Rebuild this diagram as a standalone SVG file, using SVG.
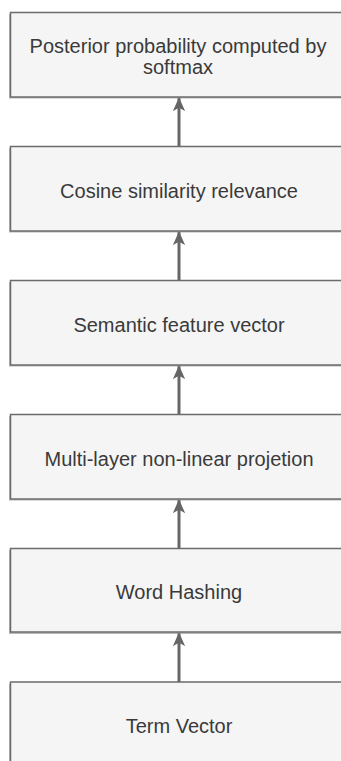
<svg xmlns="http://www.w3.org/2000/svg" width="341" height="761" viewBox="0 0 341 761">
  <defs>
    <style>
      .box { fill: #f5f5f5; stroke: #6b6b6b; stroke-width: 1.5; }
      .shadow { fill: #8a8a8a; opacity: 0.6; }
      .label { font-family: "Liberation Sans", Arial, Helvetica, sans-serif; font-size: 20px; fill: #3a3a3a; text-anchor: middle; }
      .edge { stroke: #666666; stroke-width: 3; fill: none; marker-end: url(#arrow); }
    </style>
    <marker id="arrow" markerUnits="userSpaceOnUse" markerWidth="14" markerHeight="16" viewBox="0 0 16 14" refX="15" refY="7" orient="auto">
      <path d="M0,0 L16,7 L0,14 L4,7 Z" fill="#666666"/>
    </marker>
  </defs>

  <!-- connectors: each layer feeds the one above it -->
  <g id="connectors">
    <path class="edge" d="M179,146.5 V98"/>
    <path class="edge" d="M179,280.5 V232"/>
    <path class="edge" d="M179,414.5 V366"/>
    <path class="edge" d="M179,548.5 V500"/>
    <path class="edge" d="M179,682 V633"/>
  </g>

  <g id="posterior">
    <rect class="shadow" x="9" y="14" width="340" height="84.5"/>
    <rect class="box" x="10.5" y="12.5" width="338" height="84.5"/>
    <text class="label" x="178" y="52.7">Posterior probability computed by</text>
    <text class="label" x="178" y="74">softmax</text>
  </g>

  <g id="cosine">
    <rect class="shadow" x="9" y="148" width="340" height="84.5"/>
    <rect class="box" x="10.5" y="146.5" width="338" height="84.5"/>
    <text class="label" x="179" y="197.5">Cosine similarity relevance</text>
  </g>

  <g id="semantic">
    <rect class="shadow" x="9" y="282" width="340" height="84.5"/>
    <rect class="box" x="10.5" y="280.5" width="338" height="84.5"/>
    <text class="label" x="179" y="331.5">Semantic feature vector</text>
  </g>

  <g id="projection">
    <rect class="shadow" x="9" y="416" width="340" height="84.5"/>
    <rect class="box" x="10.5" y="414.5" width="338" height="84.5"/>
    <text class="label" x="179" y="465.5">Multi-layer non-linear projetion</text>
  </g>

  <g id="hashing">
    <rect class="shadow" x="9" y="550" width="340" height="84"/>
    <rect class="box" x="10.5" y="548.5" width="338" height="83.5"/>
    <text class="label" x="179" y="599">Word Hashing</text>
  </g>

  <g id="term">
    <rect class="shadow" x="9" y="683.5" width="340" height="84"/>
    <rect class="box" x="10.5" y="682" width="338" height="84"/>
    <text class="label" x="179" y="733">Term Vector</text>
  </g>
</svg>
